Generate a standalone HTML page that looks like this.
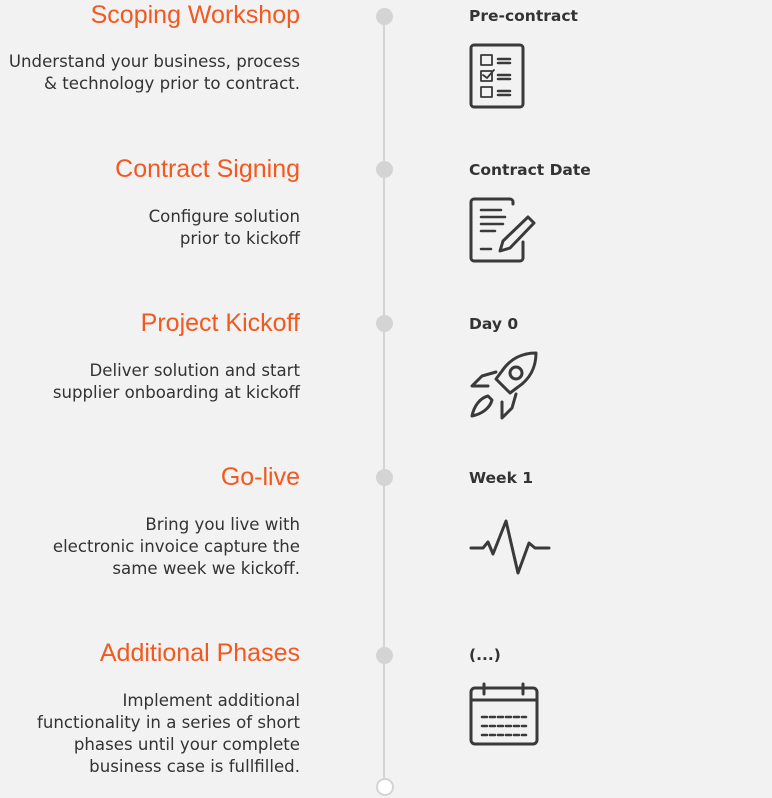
<!DOCTYPE html>
<html><head><meta charset="utf-8"><style>
body{margin:0;width:772px;height:798px;background:#f2f2f2;position:relative;overflow:hidden;font-family:"Liberation Sans",sans-serif;}
.t{position:absolute;right:472px;font-size:25px;color:#f4581e;line-height:30px;white-space:nowrap;font-weight:300;}
.d{position:absolute;right:472px;font-family:"DejaVu Sans",sans-serif;font-size:16.6px;color:#333;line-height:22px;text-align:right;white-space:nowrap;}
.l{position:absolute;left:469px;font-family:"DejaVu Sans",sans-serif;font-size:15.5px;font-weight:bold;color:#333;line-height:22px;}
.dot{position:absolute;left:376px;width:17px;height:17px;border-radius:50%;background:#d4d4d4;}
svg.i{position:absolute;fill:none;stroke:#3a3a3a;stroke-width:3;stroke-linecap:round;stroke-linejoin:round;}
</style></head><body>
<div style="position:absolute;left:383px;top:16px;width:2px;height:765px;background:#d4d4d4"></div>
<div class="dot" style="top:8px"></div>
<div class="dot" style="top:161px"></div>
<div class="dot" style="top:315px"></div>
<div class="dot" style="top:469px"></div>
<div class="dot" style="top:647px"></div>
<div style="position:absolute;left:376px;top:778px;width:14px;height:14px;border-radius:50%;background:#fff;border:2px solid #d4d4d4"></div>

<div class="t" style="top:0">Scoping Workshop</div>
<div class="d" style="top:51px">Understand your business, process<br>&amp; technology prior to contract.</div>
<div class="t" style="top:154px">Contract Signing</div>
<div class="d" style="top:206px">Configure solution<br>prior to kickoff</div>
<div class="t" style="top:308px">Project Kickoff</div>
<div class="d" style="top:360px">Deliver solution and start<br>supplier onboarding at kickoff</div>
<div class="t" style="top:462px">Go-live</div>
<div class="d" style="top:514px">Bring you live with<br>electronic invoice capture the<br>same week we kickoff.</div>
<div class="t" style="top:638px">Additional Phases</div>
<div class="d" style="top:690px">Implement additional<br>functionality in a series of short<br>phases until your complete<br>business case is fullfilled.</div>

<div class="l" style="top:5px">Pre-contract</div>
<div class="l" style="top:159px">Contract Date</div>
<div class="l" style="top:313px">Day 0</div>
<div class="l" style="top:467px">Week 1</div>
<div class="l" style="top:644px">(...)</div>

<svg class="i" style="left:468px;top:42px" width="60" height="70"><rect x="3" y="3" width="52" height="62" rx="3"/><g stroke-width="1.8"><rect x="13" y="13" width="11" height="10"/><rect x="13" y="29" width="11" height="10"/><rect x="13" y="45" width="11" height="10"/><path d="M15 33l4 3 7-8"/></g><g stroke-width="2.5"><path d="M30 17h12M30 21h12M30 33h12M30 37h12M30 49h12M30 53h12"/></g></svg>
<svg class="i" style="left:468px;top:196px" width="72" height="70"><path d="M45 8V6a3 3 0 0 0-3-3H6a3 3 0 0 0-3 3v56a3 3 0 0 0 3 3h46a3 3 0 0 0 3-3V46"/><path d="M13 14h20M13 21h24M13 28h22M13 35h14M13 53h10" stroke-width="2.5"/><path d="M60 21l6 6-24 25-10 3 3-10z"/></svg>
<svg class="i" style="left:468px;top:350px" width="72" height="72"><path d="M68 3c-14 0-26 6-34 18l-6 8 14 14 8-6C62 29 68 17 68 3z"/><circle cx="48" cy="23" r="6"/><path d="M28 22l-14 4-10 10 16 0M48 44l-4 14-10 10 0-16"/><path d="M20 46c-8 2-14 10-16 20 10-2 18-8 20-16z"/></svg>
<svg class="i" style="left:468px;top:516px" width="84" height="60"><path d="M3 32h12l5-6 5 12 13-33 12 52 11-30 6 5h14"/></svg>
<svg class="i" style="left:468px;top:681px" width="74" height="66"><rect x="3" y="7" width="66" height="56" rx="4"/><path d="M3 19h66M16 3v10M55 3v10"/><path d="M14 36h44M14 45h44M14 54h44" stroke-width="2.5" stroke-dasharray="5 3"/></svg>
</body></html>
